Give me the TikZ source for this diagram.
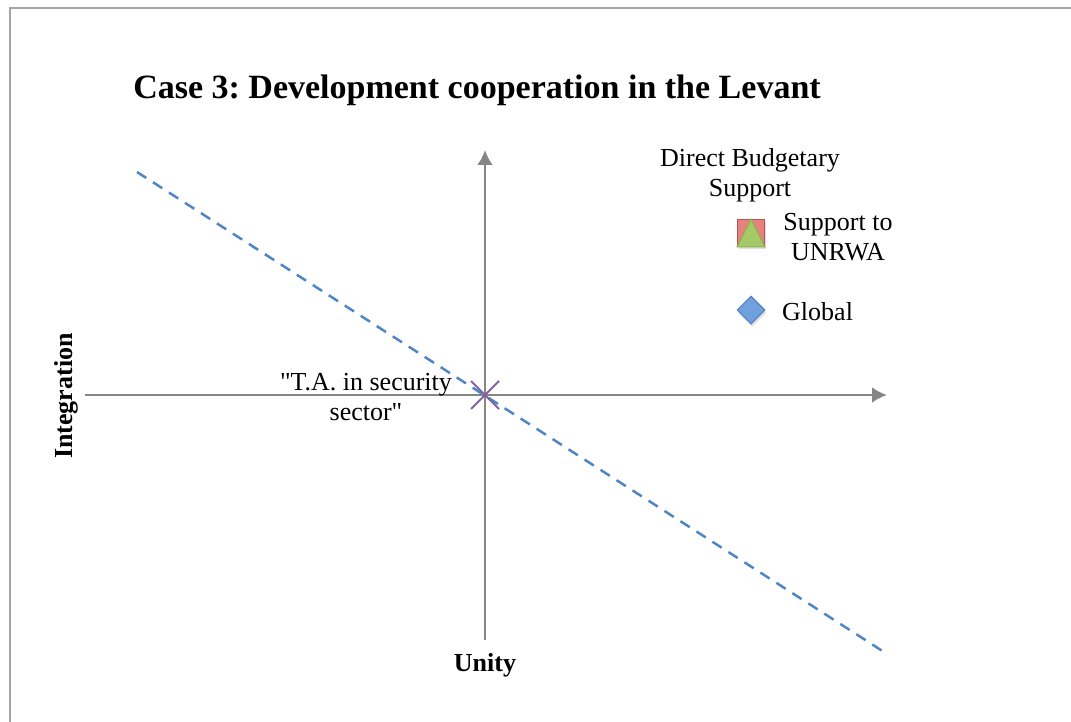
\documentclass[tikz,border=0pt]{standalone}
\usepackage{fontspec}
\setmainfont{Liberation Serif}
\usepackage{xcolor}
\usetikzlibrary{shapes.geometric, shapes.misc, arrows.meta, shadows}

\definecolor{axisgray}{RGB}{134,134,134}
\definecolor{framegray}{RGB}{165,165,165}
\definecolor{trendblue}{RGB}{79,134,198}
\definecolor{crosspurple}{RGB}{128,100,162}
\definecolor{sqred}{RGB}{230,130,126}
\definecolor{sqedge}{RGB}{192,80,77}
\definecolor{trigreen}{RGB}{166,201,104}
\definecolor{triedge}{RGB}{140,175,80}
\definecolor{diafill}{RGB}{112,160,222}
\definecolor{diaedge}{RGB}{79,129,189}

\tikzset{
    lbl/.style={font=\fontsize{26}{30}\selectfont, align=center, inner sep=0pt},
    axlbl/.style={font=\fontsize{26}{30}\selectfont\bfseries, inner sep=0pt},
    axisline/.style={draw=axisgray, line width=2.8pt, -{Latex[length=15pt,width=16pt]}},
    softshadow/.style={drop shadow={opacity=0.25, shadow xshift=1pt, shadow yshift=-3pt}},
}

\begin{document}
\begin{tikzpicture}[x=1pt, y=-1pt]
    \useasboundingbox (0,0) rectangle (1071,722);
    % Frame
    \draw[framegray, line width=2pt] (10,722) -- (10,8) -- (1071,8);

    % Title
    \node[font=\fontsize{34}{40}\selectfont\bfseries] (title) at (477,90) {\frenchspacing Case 3: Development cooperation in the Levant};

    % Axes
    \coordinate (origin) at (485,395);
    \coordinate (xstart) at (85,395);
    \coordinate (xend) at (887,395);
    \coordinate (ystart) at (485,640);
    \coordinate (yend) at (485,150);
    \draw[axisline] (xstart) -- (xend);
    \draw[axisline] (ystart) -- (yend);

    \node[axlbl, rotate=90] (integration) at (66,396) {Integration};
    \node[axlbl] (unity) at (485,665) {Unity};

    % Trend line
    \coordinate (trendA) at (137,172);
    \coordinate (trendB) at (884,652);
    \draw[trendblue, line width=2.5pt, dash pattern=on 11pt off 8pt] (trendA) -- (trendB);

    % Data points
    \node[draw=sqedge, fill=sqred, line width=1pt, minimum size=27pt, inner sep=0pt, softshadow] (unrwa) at (751,233) {};
    \filldraw[fill=trigreen, draw=triedge, line width=1pt] (unrwa.north) -- (unrwa.south east) -- (unrwa.south west) -- cycle;
    \node[diamond, draw=diaedge, fill=diafill, line width=1pt, minimum size=28pt, inner sep=0pt, softshadow] (global) at (751,310) {};
    \node[cross out, draw=crosspurple, line width=2pt, minimum size=26pt, inner sep=0pt] (ta) at (origin) {};

    % Labels
    \node[lbl] (dbs) at (750,175) {Direct Budgetary\\Support};
    \node[lbl] (unrwalbl) at (838,237) {Support to\\UNRWA};
    \node[lbl, anchor=west] (globallbl) at (782,312) {Global};
    \node[lbl] (talbl) at (366,397) {\textquotedbl T.A. in security\\sector\textquotedbl};
\end{tikzpicture}
\end{document}
